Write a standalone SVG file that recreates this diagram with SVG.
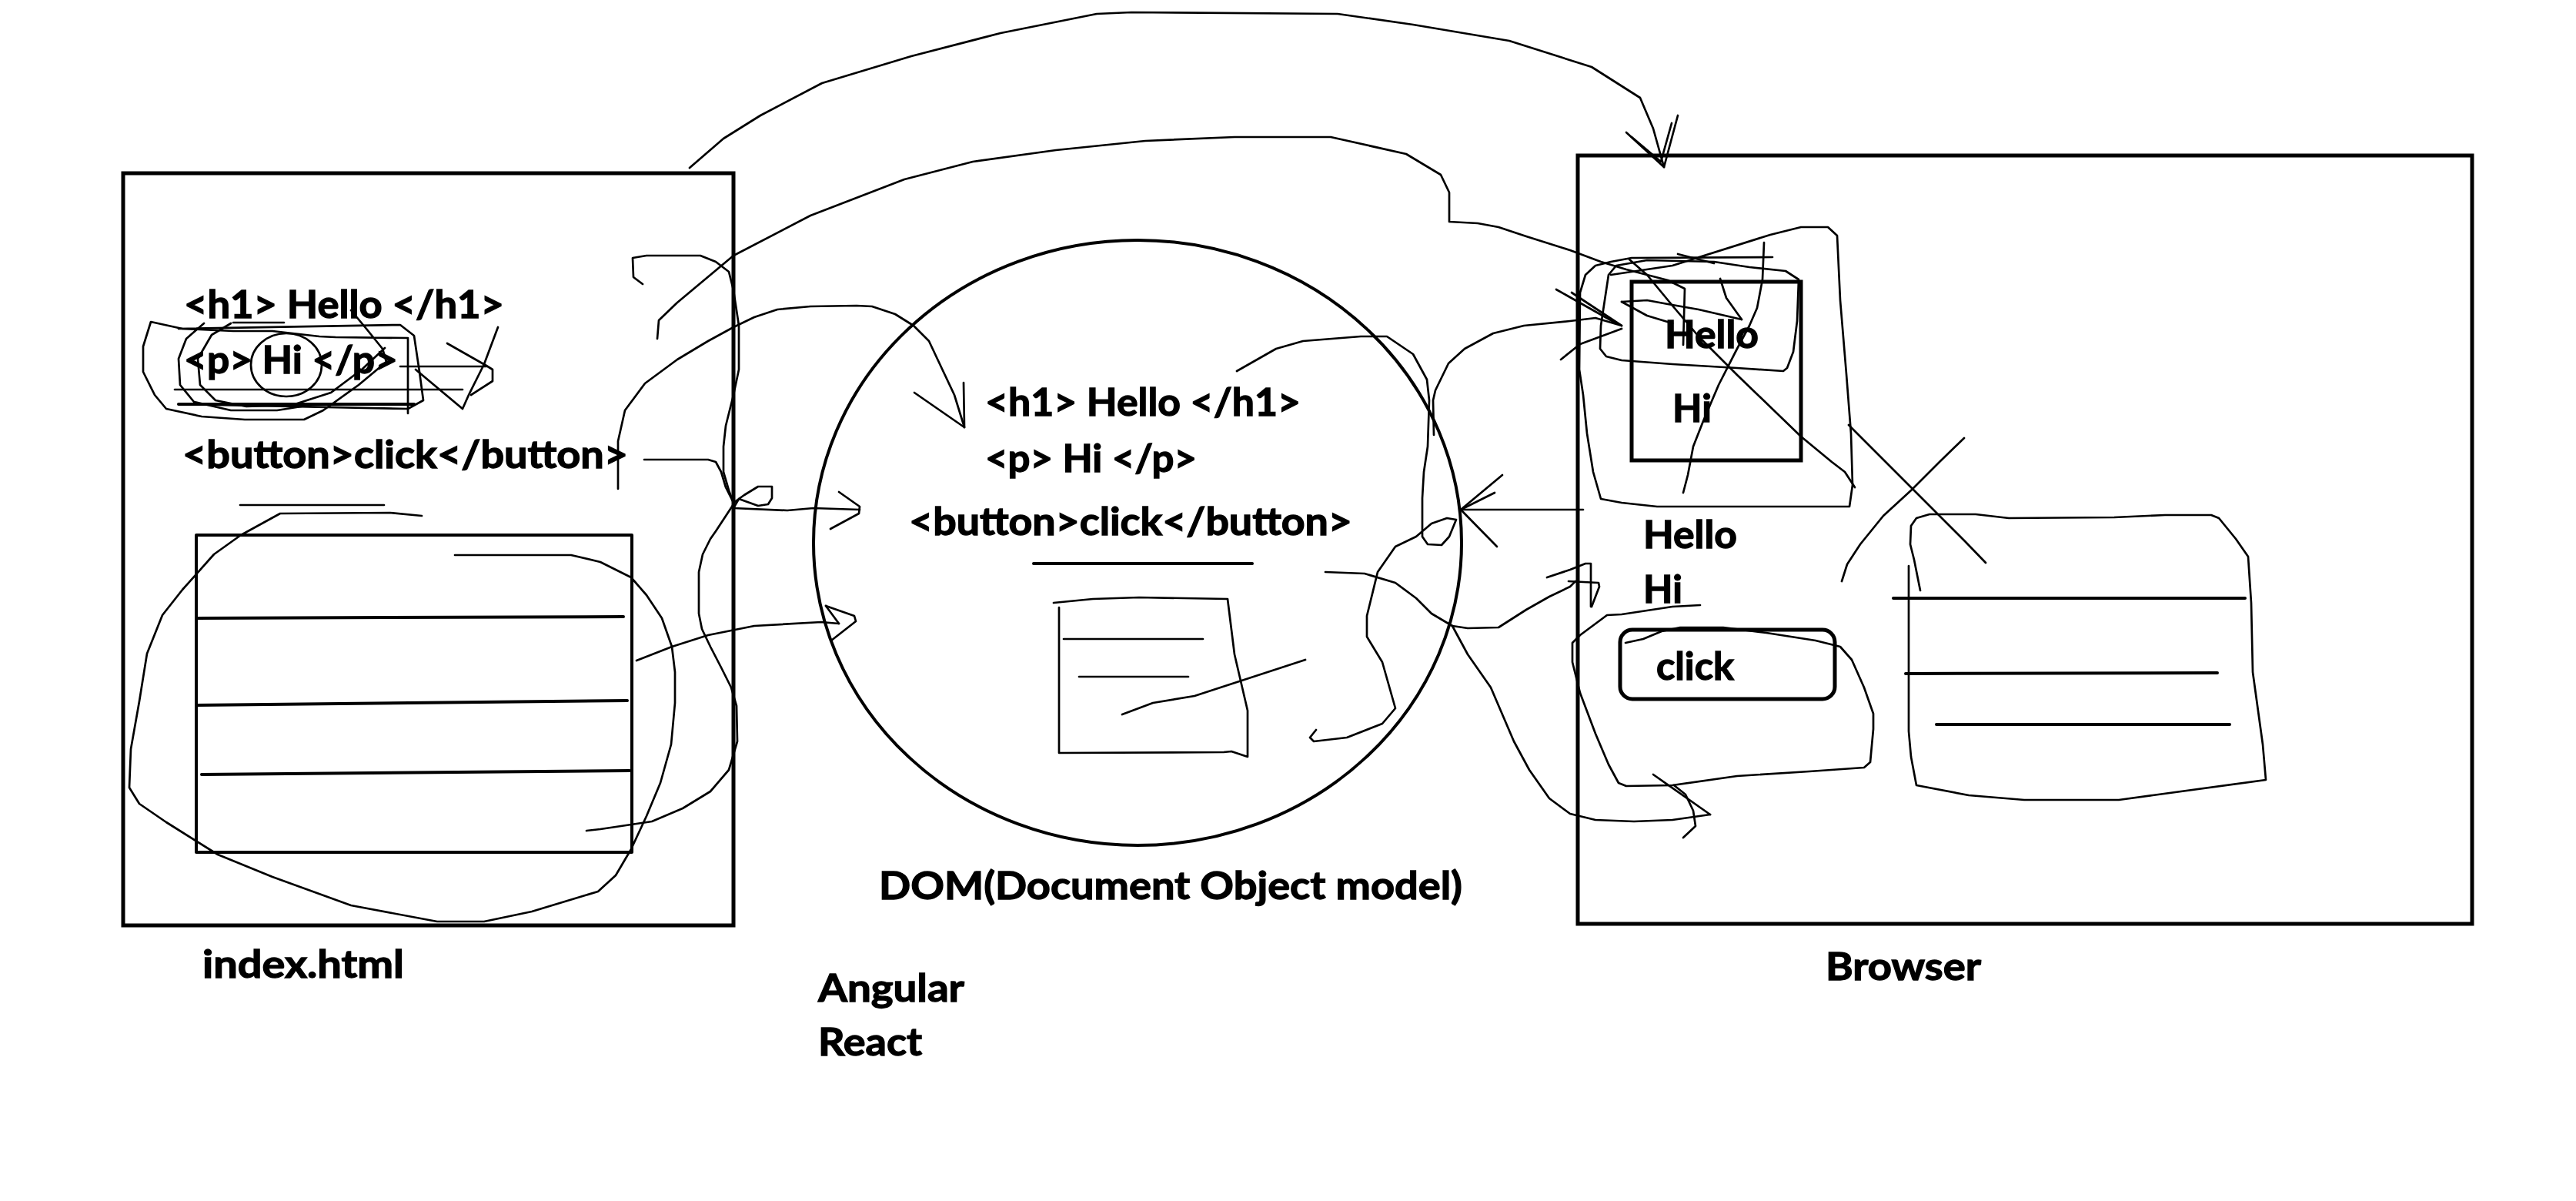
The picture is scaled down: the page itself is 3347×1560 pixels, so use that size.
<svg xmlns="http://www.w3.org/2000/svg" width="3347" height="1560" viewBox="0 0 3347 1560">
<style>
.bx{fill:none;stroke:#000;stroke-width:5}
.s{fill:none;stroke:#000;stroke-width:2.7;stroke-linecap:round;stroke-linejoin:round}
.m{fill:none;stroke:#000;stroke-width:4;stroke-linecap:round;stroke-linejoin:round}
.t{font-family:Lato,'Liberation Sans',sans-serif;font-weight:bold;font-size:50px;fill:#000;stroke:#000;stroke-width:1.3}
</style>
<rect width="3347" height="1560" fill="#fff"/>

<g id="index-html">
<rect class="bx" x="160" y="225" width="793" height="977"/>
<text class="t" x="239" y="413" textLength="416" lengthAdjust="spacingAndGlyphs">&lt;h1&gt; Hello &lt;/h1&gt;</text>
<text class="t" x="239" y="485" textLength="278" lengthAdjust="spacingAndGlyphs">&lt;p&gt; Hi &lt;/p&gt;</text>
<text class="t" x="237" y="608" textLength="579" lengthAdjust="spacingAndGlyphs">&lt;button&gt;click&lt;/button&gt;</text>
<polyline class="s" points="530,439 436,438 415,437 354,430 303,430 237,427 196,418 186,450 186,483 201,513 216,531 262,541 318,545 395,545 420,533 466,500 502,470 497,453 476,427 456,403"/>
<polyline class="s" points="265,420 242,440 232,466 234,500 252,522 300,533 360,533 410,525"/>
<polyline class="s" points="300,420 275,435 257,466 260,500 280,520 320,528 380,526 430,510 470,480 500,452"/>
<polyline class="s" points="232,427 520,422 538,436 545,483 550,520 530,531 232,525"/>
<ellipse class="s" cx="372" cy="474" rx="46" ry="41"/>
<line class="s" x1="227" y1="506" x2="601" y2="506"/>
<line class="m" x1="232" y1="525" x2="538" y2="525"/>
<line class="s" x1="520" y1="476" x2="632" y2="476"/>
<line class="s" x1="303" y1="419" x2="369" y2="419"/>
<line class="s" x1="530" y1="440" x2="530" y2="537"/>
<polyline class="s" points="581,446 632,475 640,480 640,495 612,513"/>
<polyline class="s" points="647,425 629,473 609,513 601,531 540,480"/>
<line class="s" x1="312" y1="656" x2="499" y2="656"/>
<rect class="m" x="255" y="695" width="566" height="412"/>
<line class="m" x1="255" y1="803" x2="810" y2="801"/>
<line class="m" x1="255" y1="916" x2="815" y2="910"/>
<line class="m" x1="262" y1="1006" x2="818" y2="1001"/>
<polyline class="s" points="548,670 507,666 364,667 313,695 278,720 237,766 211,799 191,849 181,911 170,973 168,1023 181,1044 216,1068 283,1110 354,1139 456,1176 568,1197 629,1197 691,1184 777,1158 800,1137 820,1103 840,1060 858,1017 872,967 877,913 877,873 873,840 860,803 840,773 820,750 780,730 742,721 591,721"/>
<text class="t" x="263" y="1270" textLength="262" lengthAdjust="spacingAndGlyphs">index.html</text>
</g>

<g id="dom">
<ellipse class="m" cx="1478" cy="705" rx="421" ry="393"/>
<text class="t" x="1280" y="540" textLength="410" lengthAdjust="spacingAndGlyphs">&lt;h1&gt; Hello &lt;/h1&gt;</text>
<text class="t" x="1280" y="613" textLength="275" lengthAdjust="spacingAndGlyphs">&lt;p&gt; Hi &lt;/p&gt;</text>
<text class="t" x="1181" y="695" textLength="576" lengthAdjust="spacingAndGlyphs">&lt;button&gt;click&lt;/button&gt;</text>
<line class="m" x1="1343" y1="732" x2="1627" y2="732"/>
<polyline class="s" points="1369,783 1420,778 1480,776 1595,778 1604,850 1621,923 1621,983 1600,976 1590,977 1376,978 1376,789"/>
<line class="s" x1="1382" y1="830" x2="1563" y2="830"/>
<line class="s" x1="1402" y1="879" x2="1544" y2="879"/>
<polyline class="s" points="1458,928 1498,913 1552,904 1696,857"/>
<text class="t" x="1142" y="1168" textLength="758" lengthAdjust="spacingAndGlyphs">DOM(Document Object model)</text>
</g>

<g id="frameworks">
<text class="t" x="1063" y="1301" textLength="190" lengthAdjust="spacingAndGlyphs">Angular</text>
<text class="t" x="1063" y="1371" textLength="135" lengthAdjust="spacingAndGlyphs">React</text>
</g>

<g id="browser">
<rect class="bx" x="2050" y="202" width="1162" height="998"/>
<rect class="bx" x="2120" y="366" width="220" height="232"/>
<text class="t" x="2163" y="452" textLength="122" lengthAdjust="spacingAndGlyphs">Hello</text>
<text class="t" x="2173" y="548">Hi</text>
<text class="t" x="2135" y="712" textLength="122" lengthAdjust="spacingAndGlyphs">Hello</text>
<text class="t" x="2135" y="783">Hi</text>
<rect class="bx" x="2105" y="818" width="279" height="90" rx="16"/>
<text class="t" x="2152" y="883" textLength="101" lengthAdjust="spacingAndGlyphs">click</text>
<polyline class="s" points="2090,357 2080,423 2079,453 2087,463 2107,468 2173,473 2257,478 2317,482 2322,478 2330,457 2335,417 2337,363 2320,352 2273,347 2227,340 2140,338 2100,345 2090,357"/>
<polyline class="s" points="2093,357 2173,345 2300,305 2340,295 2375,295 2387,306 2391,390 2399,486 2405,563 2407,630 2403,658 2340,658 2153,658 2107,653 2080,648 2070,613 2062,563 2057,513 2052,480 2053,380 2060,357 2073,345 2093,340 2120,335 2303,334"/>
<polyline class="s" points="2117,337 2140,357 2173,397 2207,437 2257,487 2340,567 2380,600 2397,613 2410,633"/>
<polyline class="s" points="2292,315 2290,363 2283,400 2273,423 2257,453 2233,500 2213,547 2200,580 2193,617 2187,640"/>
<polyline class="s" points="2235,362 2243,387 2263,415"/>
<polyline class="s" points="2107,392 2140,390 2167,395 2207,402 2263,415"/>
<polyline class="s" points="2107,392 2140,410 2173,420"/>
<line class="s" x1="2180" y1="330" x2="2227" y2="342"/>
<polyline class="s" points="2402,552 2440,590 2483,633 2523,673 2553,703 2580,731"/>
<polyline class="s" points="2552,569 2520,600 2483,637 2447,670 2417,707 2400,733 2393,755"/>
<polyline class="s" points="2495,767 2487,727 2482,707 2483,683 2490,673 2507,668 2567,668 2610,673 2747,672 2813,669 2873,669 2883,673 2905,700 2921,723 2925,783 2927,873 2940,967 2944,1013 2797,1033 2753,1039 2630,1039 2558,1033 2490,1020 2483,983 2480,950 2480,735"/>
<line class="m" x1="2460" y1="777" x2="2917" y2="777"/>
<line class="m" x1="2476" y1="875" x2="2881" y2="874"/>
<line class="m" x1="2516" y1="941" x2="2897" y2="941"/>
<polyline class="s" points="2209,786 2173,788 2107,798 2088,799 2053,825 2043,835 2043,860 2053,900 2073,953 2090,993 2103,1017 2113,1021 2173,1020 2257,1008 2351,1002 2422,997 2430,990 2434,947 2434,927 2422,893 2406,857 2391,840 2359,832 2295,822 2239,815 2183,815 2159,820 2135,830 2112,835"/>
<text class="t" x="2372" y="1273" textLength="202" lengthAdjust="spacingAndGlyphs">Browser</text>
</g>

<g id="connectors">
<polyline class="s" points="896,218 940,180 988,150 1068,108 1184,73 1300,43 1425,18 1470,16 1738,18 1836,32 1961,53 2068,87 2131,127 2148,167 2162,217"/>
<polyline class="s" points="2113,172 2162,217 2180,150"/>
<polyline class="s" points="2120,178 2158,210 2172,160"/>
<polyline class="s" points="854,440 856,416 880,393 953,332 1053,280 1175,233 1264,210 1372,195 1488,183 1604,178 1729,178 1827,200 1872,227 1883,250 1883,288 1920,290 1947,295 1983,307 2040,325 2080,340 2113,350 2167,364 2189,375 2187,448"/>
<polyline class="s" points="803,635 803,573 812,533 838,498 880,467 920,443 953,425 980,412 1010,402 1053,398 1113,397 1133,398 1163,408 1187,423 1207,443 1223,477 1240,513 1253,555"/>
<polyline class="s" points="1188,510 1253,555 1252,497"/>
<polyline class="s" points="835,369 823,360 822,335 840,332 910,332 930,340 947,353 953,377 960,423 960,480 953,513 943,553 940,580 940,613 947,637 953,653 967,643 985,632 1003,632 1003,647 998,655 985,657 960,648 953,660 1023,663 1057,660 1117,662"/>
<polyline class="s" points="837,597 920,597 930,600 937,613 943,633 953,653"/>
<polyline class="s" points="1090,639 1117,658 1116,667 1079,687"/>
<polyline class="s" points="827,858 873,840 920,825 980,813 1067,808 1090,810"/>
<polyline class="s" points="1073,787 1110,800 1112,807 1080,832"/>
<polyline class="s" points="1090,810 1073,787"/>
<polyline class="s" points="762,1079 780,1077 847,1067 887,1050 923,1028 947,1000 958,963 957,917 950,893 937,867 923,840 912,817 908,797 908,743 913,720 923,700 930,690 953,655"/>
<polyline class="s" points="1607,482 1658,453 1693,443 1768,437 1802,437 1836,460 1854,493 1857,520 1855,580 1850,613 1848,647 1848,697 1855,707 1873,708 1883,697 1892,675 1880,673 1860,680 1840,697 1813,710 1790,743 1776,800 1776,827 1796,860 1813,920 1796,940 1750,958 1707,963 1702,958 1710,948"/>
<polyline class="s" points="1863,565 1862,520 1865,507 1882,472 1903,453 1940,433 1980,423 2040,417 2073,413 2107,423"/>
<polyline class="s" points="2022,376 2100,420"/>
<polyline class="s" points="2042,380 2107,423"/>
<polyline class="s" points="2028,467 2053,447 2107,427"/>
<line class="s" x1="2057" y1="662" x2="1898" y2="662"/>
<polyline class="s" points="1952,617 1898,662 1945,710"/>
<polyline class="s" points="1942,640 1898,662"/>
<polyline class="s" points="1722,743 1773,745 1813,757 1840,777 1860,797 1887,813 1907,816 1947,815 1983,792 2013,775 2040,762 2047,755"/>
<polyline class="s" points="2010,750 2040,740 2060,732 2067,732 2067,788"/>
<polyline class="s" points="2038,755 2077,757 2078,762 2068,788"/>
<polyline class="s" points="1887,813 1907,850 1937,893 1967,963 1987,1000 2013,1037 2040,1057 2073,1065 2123,1067 2173,1065 2222,1058"/>
<polyline class="s" points="2148,1006 2222,1058"/>
<polyline class="s" points="2175,1020 2190,1032 2200,1053 2203,1073 2187,1088"/>
</g>
</svg>
